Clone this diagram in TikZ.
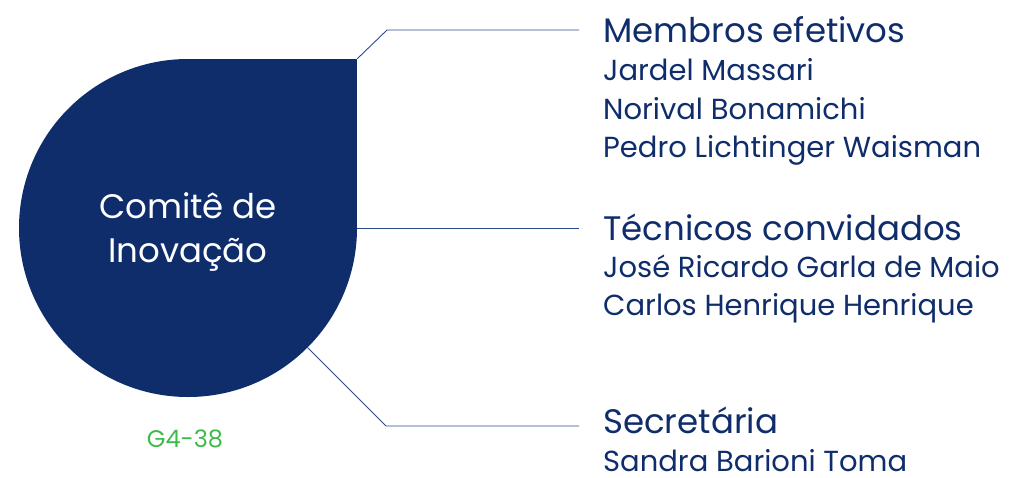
\documentclass[tikz,border=0pt]{standalone}
\usepackage{fontspec}
\setmainfont{Poppins}
\usetikzlibrary{positioning}
\definecolor{navy}{HTML}{0F2D6B}
\definecolor{linkblue}{HTML}{2B4A8C}
\definecolor{codegreen}{HTML}{3DBB4A}
\tikzset{
  heading/.style={anchor=base west, inner sep=0pt, text=navy, font=\fontsize{34}{34}\selectfont},
  person/.style={anchor=base west, inner sep=0pt, text depth=0pt, text=navy, font=\fontsize{29}{29}\selectfont},
  link/.style={draw=linkblue, line width=0.9pt},
}
\begin{document}
\begin{tikzpicture}[x=1pt, y=-1pt]
    \useasboundingbox (0,0) rectangle (1014,477);
    % the drop
    \fill[navy] (188,59) rectangle (357,228);
    \node[circle, fill=navy, inner sep=0pt, minimum size=338pt] (drop) at (188,228) {};
    \node[text=white, align=center, inner sep=0pt, font=\fontsize{34}{44}\selectfont] (comite) at (188,232) {Comitê de\\Inovação};
    \node[text=codegreen, anchor=base, inner sep=0pt, font=\fontsize{24}{24}\selectfont] (code) at (185,447) {G4-38};
    \coordinate (tr) at (drop.north -| drop.east);
    \coordinate (k1) at (387,30);
    \coordinate (e1) at (579,30);
    \coordinate (e2) at (579,228);
    \coordinate (k3) at (386,426);
    \coordinate (e3) at (579,426);
    % groups
    \node[heading] (membros) at (603,42) {Membros efetivos};
    \node[person] (jardel) at (603,80) {Jardel Massari};
    \node[person] (norival) at (603,119) {Norival Bonamichi};
    \node[person] (pedro) at (603,157) {Pedro Lichtinger Waisman};
    \node[heading] (tecnicos) at (603,240) {Técnicos convidados};
    \node[person] (jose) at (603,277) {José Ricardo Garla de Maio};
    \node[person] (carlos) at (603,315) {Carlos Henrique Henrique};
    \node[heading] (secretaria) at (603,433) {Secretária};
    \node[person] (sandra) at (603,471) {Sandra Barioni Toma};
    % links
    \draw[link] (tr) -- (k1) -- (e1);
    \draw[link] (drop.east) -- (e2);
    \draw[link] (drop.south east) -- (k3) -- (e3);
\end{tikzpicture}
\end{document}
